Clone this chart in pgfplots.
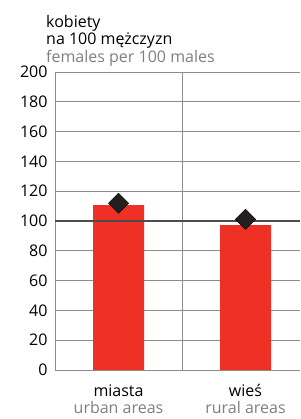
\documentclass[border=0pt]{standalone}
\usepackage{pgfplots}
\pgfplotsset{compat=1.18}
\usepackage{fontspec}
\setmainfont{Open Sans}
\definecolor{barred}{HTML}{EE3124}
\definecolor{mk}{HTML}{231F20}
\definecolor{gridgray}{HTML}{8C8C8C}
\definecolor{engray}{HTML}{7F7F7F}
\newcommand{\fs}{\fontsize{16}{18}\selectfont}
\begin{document}
\begin{tikzpicture}
\useasboundingbox (0pt,0pt) rectangle (300pt,419pt);
\node[anchor=base west,font=\fs,inner sep=0] at (46pt,391pt) {kobiety};
\node[anchor=base west,font=\fs,inner sep=0] at (46pt,374pt) {na 100 mężczyzn};
\node[anchor=base west,font=\fs,inner sep=0,text=engray] at (46pt,356pt) {females per 100 males};
\begin{axis}[
  at={(55pt,49pt)}, anchor=south west,
  scale only axis, width=245pt, height=298pt,
  xmin=-0.5, xmax=1.429, ymin=0, ymax=200,
  axis x line*=bottom, axis y line*=left,
  axis line style={gridgray, line width=0.9pt, -},
  xtick={0,1}, xticklabels={},
  ytick={0,20,...,200},
  major tick length=0pt,
  ymajorgrids, grid style={gridgray, line width=0.9pt},
  extra x ticks={0.5}, extra x tick labels={},
  extra x tick style={xmajorgrids, grid style={gridgray, line width=0.9pt}},
  tick label style={font=\fs, text=black},
  yticklabel style={xshift=-4pt},
  /pgf/number format/assume math mode=true,
  clip=false,
]
\addplot[ybar, bar width=51pt, fill=barred, draw=none] coordinates {(0,110.7) (1,97.3)};
\draw[black!70, line width=2pt] (axis cs:-0.5,100) -- (axis cs:1.429,100);
\addplot[only marks, mark=square*, mark size=7.2pt, mark options={rotate=45, fill=mk, draw=none}] coordinates {(0,111.9) (1,101.1)};
\node[anchor=base,font=\fs,inner sep=0] at (axis cs:0,0) [yshift=-27pt] {miasta};
\node[anchor=base,font=\fs,inner sep=0,text=engray] at (axis cs:0,0) [yshift=-44pt] {urban areas};
\node[anchor=base,font=\fs,inner sep=0] at (axis cs:1,0) [yshift=-27pt] {wieś};
\node[anchor=base,font=\fs,inner sep=0,text=engray] at (axis cs:1,0) [yshift=-44pt] {rural areas};
\end{axis}
\end{tikzpicture}
\end{document}
